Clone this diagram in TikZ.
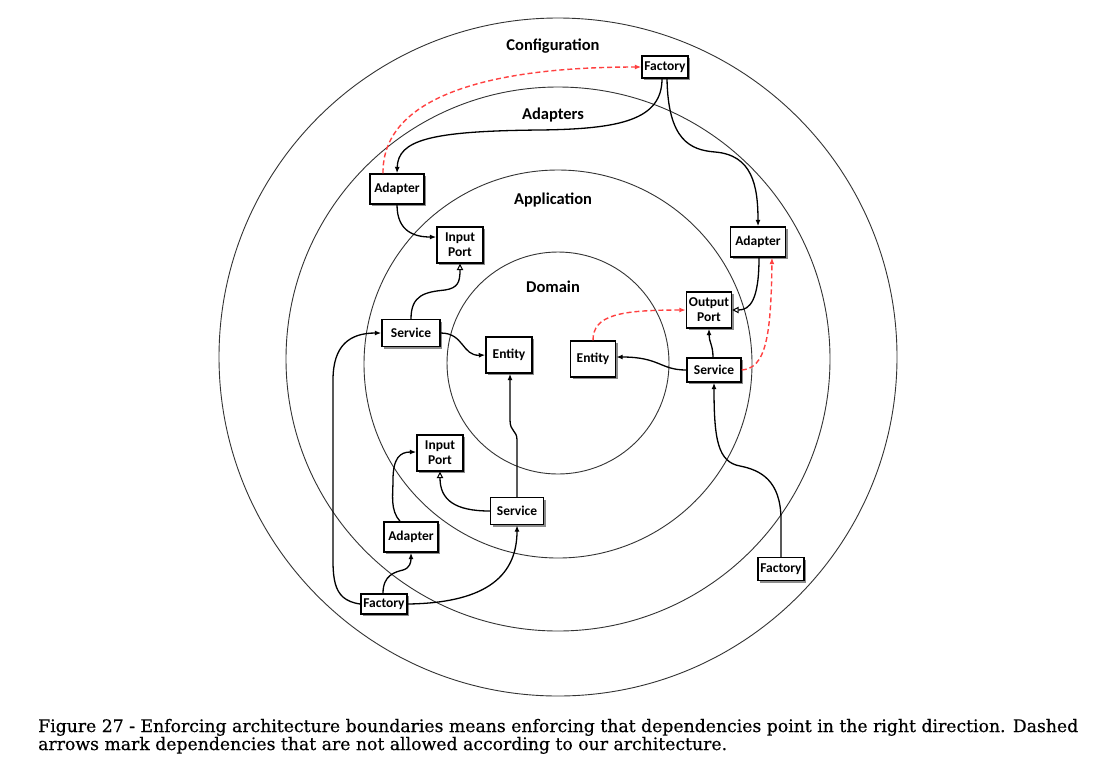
\documentclass[tikz,border=0pt]{standalone}
\usepackage{fontspec}
\setmainfont{DejaVu Serif}
\newfontfamily\capfont[FakeBold=0.5]{DejaVu Serif}
\newfontfamily\boxfont{Carlito}
\usetikzlibrary{arrows.meta,shadows}
\newlength\capwd
\newcommand\capA{Figure 27 - Enforcing architecture boundaries means enforcing that dependencies point in the right direction. Dashed}
\newcommand\capB{arrows mark dependencies that are not allowed according to our architecture.}
\begin{document}
\settowidth{\capwd}{\capfont\fontsize{16}{18}\selectfont\capA}%
\pgfmathsetmacro\capsc{1040/\capwd}%
\begin{tikzpicture}[x=1pt,y=-1pt,
 ring/.style={draw=black!80, line width=0.9pt},
 layer/.style={font=\boxfont\bfseries\fontsize{16.5}{18}\selectfont, inner sep=0pt},
 box/.style={draw, line width=1.4pt, fill=white, inner sep=0pt, align=center,
   font=\boxfont\bfseries\fontsize{13.5}{15}\selectfont,
   drop shadow={shadow xshift=2.4pt, shadow yshift=-2.4pt, fill=black!45, opacity=1}},
 dep/.style={line width=1.3pt, -{Latex[length=6.5pt,width=5pt]}},
 impl/.style={line width=1.3pt, -{Triangle[open,length=6.5pt,width=6.5pt,line width=1pt]}},
 bad/.style={line width=1.4pt, draw=red!75, dash pattern=on 5pt off 3pt, -{Latex[length=6.5pt,width=5pt,fill=red!75]}},
 captext/.style={font=\capfont\fontsize{16}{18}\selectfont, inner sep=0pt}
]
\fill[white] (0,0) rectangle (1118,772);
\useasboundingbox (0,0) rectangle (1118,772);

% rings
\draw[ring] (558,357) circle[radius=339];
\draw[ring] (558,359) circle[radius=272];
\draw[ring] (558,364) circle[radius=194];
\draw[ring] (558,363) circle[radius=111];

% layer labels
\node[layer] (lconf) at (553,46) {Configuration};
\node[layer] (ladp) at (553,115) {Adapters};
\node[layer] (lapp) at (553,200) {Application};
\node[layer] (ldom) at (553,287) {Domain};

% boxes
\node[box, minimum width=46pt, minimum height=22pt] (fac1) at (665,67) {Factory};
\node[box, minimum width=54pt, minimum height=30pt] (ad1) at (397,189) {Adapter};
\node[box, minimum width=46pt, minimum height=36pt] (ip1) at (460,245) {Input\\Port};
\node[box, minimum width=58pt, minimum height=27pt] (sv1) at (411,333) {Service};
\node[box, minimum width=46pt, minimum height=36pt] (en1) at (509,355) {Entity};
\node[box, minimum width=45pt, minimum height=36pt] (en2) at (593,359) {Entity};
\node[box, minimum width=45pt, minimum height=36pt] (op) at (709,310) {Output\\Port};
\node[box, minimum width=54pt, minimum height=24pt] (sv2) at (714,370) {Service};
\node[box, minimum width=55pt, minimum height=30pt] (ad2) at (758,242) {Adapter};
\node[box, minimum width=46pt, minimum height=36pt] (ip2) at (440,453) {Input\\Port};
\node[box, minimum width=53pt, minimum height=27pt] (sv3) at (517,511) {Service};
\node[box, minimum width=54pt, minimum height=30pt] (ad3) at (411,537) {Adapter};
\node[box, minimum width=46pt, minimum height=20pt] (fac2) at (384,604) {Factory};
\node[box, minimum width=46pt, minimum height=23pt] (fac3) at (781,569) {Factory};

% connectors
\draw[dep] ([xshift=-3pt]fac1.south) .. controls (662,120) and (620,129) .. (540,130) .. controls (430,131) and (398,140) .. (ad1.north);
\draw[dep] ([xshift=2pt]fac1.south) .. controls (668,140) and (690,150) .. (715,152) .. controls (752,155) and (758,185) .. (ad2.north);
\draw[bad] ([xshift=-14pt]ad1.north) .. controls (382,100) and (480,67) .. (fac1.west);
\draw[dep] (ad1.south) .. controls (397,232) and (415,237) .. ([yshift=8pt]ip1.west);
\draw[impl] (sv1.north) .. controls (411,295) and (425,292) .. (445,290) .. controls (458,288) and (460,282) .. (ip1.south);
\draw[dep] (sv1.east) .. controls (464,333) and (462,356) .. (en1.west);
\draw[dep] (fac2.west) .. controls (330,600) and (333,575) .. (333,540) -- (333,380) .. controls (333,345) and (350,333) .. (sv1.west);
\draw[dep] ([xshift=-1pt]fac2.north) .. controls (383,575) and (395,572) .. (403,570) .. controls (410,568) and (411,562) .. (ad3.south);
\draw[dep] (fac2.east) .. controls (480,603) and (517,580) .. (sv3.south);
\draw[dep] ([xshift=-11pt]ad3.north) .. controls (390,510) and (393,495) .. (393,480) .. controls (393,458) and (400,452) .. ([yshift=1pt]ip2.west);
\draw[impl] (sv3.west) .. controls (455,511) and (440,500) .. (ip2.south);
\draw[dep] (sv3.north) -- (517,440) .. controls (517,430) and (510,432) .. (510,420) -- ([xshift=1pt]en1.south);
\draw[dep] (sv2.west) .. controls (660,370) and (660,357) .. ([yshift=2pt]en2.east);
\draw[dep] ([xshift=-1pt]sv2.north) .. controls (713,345) and (709,342) .. (op.south);
\draw[bad] (en2.north) .. controls (593,315) and (620,310) .. (op.west);
\draw[impl] ([xshift=1pt]ad2.south) .. controls (759,300) and (750,310) .. (op.east);
\draw[bad] (sv2.east) .. controls (765,368) and (771,340) .. ([xshift=14pt]ad2.south);
\draw[dep] (fac3.north) -- (781,520) .. controls (781,480) and (760,470) .. (740,466) .. controls (718,462) and (714,440) .. (sv2.south);

% caption
\node[captext, anchor=base west, scale=\capsc] (cap1) at (38,732) {\capA};
\node[captext, anchor=base west, scale=\capsc] (cap2) at (38,750) {\capB};
\end{tikzpicture}
\end{document}
